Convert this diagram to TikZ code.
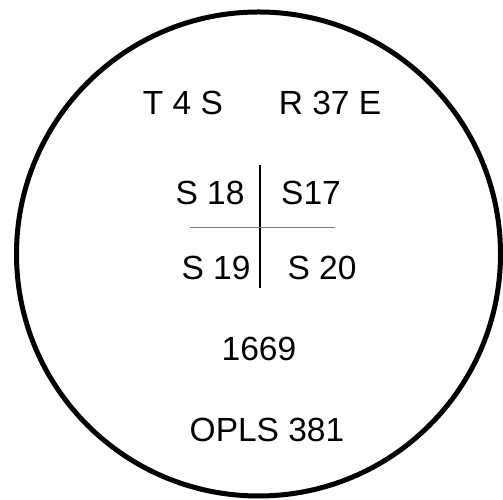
\documentclass[tikz,border=0pt]{standalone}
\usepackage{fontspec}
\setmainfont{Liberation Sans}

\tikzset{
  lbl/.style={inner sep=0pt,font=\fontsize{33.5}{33.5}\selectfont},
  rim/.style={line width=5pt},
}

\begin{document}
\begin{tikzpicture}[x=1pt,y=1pt]
                \useasboundingbox (0,0) rectangle (503,500);
                \fill[white] (0,0) rectangle (503,500);
                \draw[rim] (258.5,246) circle (242);

                \node[lbl] (tfs) at(183,397) {T 4 S};
                \node[lbl] (rse) at(330,397) {R 37 E};

                \node[lbl] (s18) at(210,307) {S 18};
                \node[lbl] (s17) at(311,307) {S17};
                \node[lbl] (s19) at(216,232) {S 19};
                \node[lbl] (s20) at(322,232) {S 20};

                \draw[line width=1.2pt] (260,335)--(260,212);
                \draw[gray,line width=0.9pt] (190,273)--(335,273);

                \node[lbl] (num) at(259,151) {1669};
                \node[lbl] (opls) at(267,70) {OPLS 381};
            \end{tikzpicture}
\end{document}
